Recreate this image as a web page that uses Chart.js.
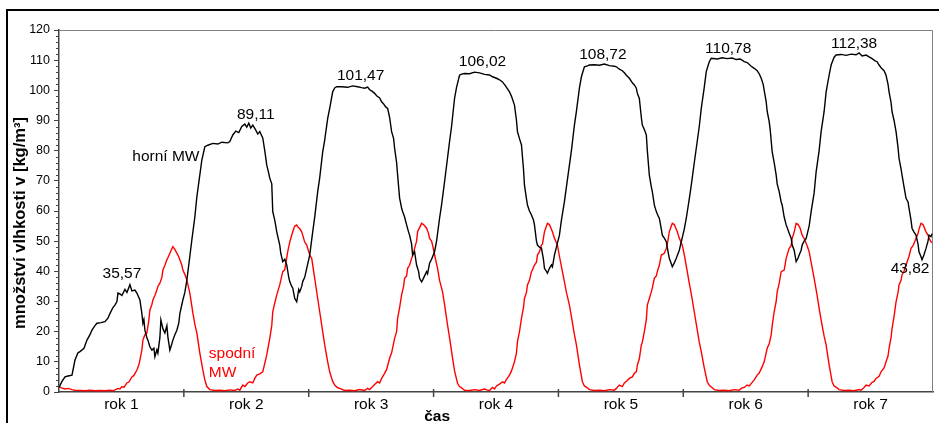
<!DOCTYPE html>
<html lang="cs">

<head>
    <meta charset="UTF-8">
    <title>Množství vlhkosti v MW</title>
    <script src="https://cdn.jsdelivr.net/npm/chart.js"></script>
    <style>
        body {
            margin: 0;
            background: #fff;
            font-family: "Liberation Sans", Arial, sans-serif;
        }

        #wrap {
            position: relative;
            width: 939px;
            height: 423px;
            overflow: hidden;
        }

        /* black frame of the original figure (top and left edge) */
        #ramecek {
            position: absolute;
            left: 6px;
            top: 9px;
            width: 940px;
            height: 420px;
            border-top: 2px solid #000;
            border-left: 2px solid #000;
        }

        #graf {
            position: absolute;
            left: 0;
            top: 0;
        }
    </style>
</head>

<body>
    <div id="wrap">
        <div id="ramecek"></div>
        <canvas id="graf" width="939" height="423"></canvas>
    </div>

    <script>
        // casovy krok (125 kroku = 1 rok), hodnota [kg/m3]
        const horniMW = [
            [0, 1.5], [3, 3.5], [6, 5], [9, 5.3], [13, 5.6], [16, 10.6], [19, 13], [21, 13.4], [25, 14.5], [28, 17.2],
            [31, 19], [33, 20.5], [36, 22], [38, 22.8], [42, 23], [46, 23.3], [49, 24.5], [51, 26], [54, 28], [56, 28.8],
            [58, 30], [59, 32.8], [61, 32.5], [63, 32], [66, 34], [68, 33], [71, 35.57], [73, 33.5], [76, 33.8], [78, 32.8],
            [81, 30.5], [83, 26], [84, 22.8], [85, 24], [86, 20.5], [88, 18], [89, 17.2], [91, 15], [93, 13.9], [95, 14.5],
            [96, 11.7], [98, 14], [99, 12.9], [101, 18], [102, 23.9], [104, 21], [106, 19.6], [108, 22], [109, 18.3], [111, 13.9],
            [113, 16], [114, 17.2], [116, 19], [118, 20.5], [120, 23], [121, 26], [123, 29], [124, 30.5], [126, 33], [128, 37.1],
            [131, 45], [133, 50.4], [136, 58], [138, 64.7], [141, 72], [143, 76.9], [146, 81.3], [149, 81.8], [154, 82.4], [159, 82.2],
            [163, 82.8], [169, 82.6], [171, 83], [174, 85.2], [177, 86.5], [180, 86], [183, 88], [186, 88.8], [188, 87.8], [190, 89.11],
            [192, 87.5], [194, 88.5], [197, 86.8], [199, 85.5], [201, 86.3], [204, 84.2], [206, 80], [208, 75.2], [210, 72.5], [211, 70.9],
            [213, 69], [214, 59.8], [216, 57], [218, 53.1], [221, 48.7], [222, 46], [224, 43.2], [226, 44], [228, 42.1], [230, 38],
            [231, 36.6], [233, 35], [234, 34.5], [236, 31], [238, 29.9], [240, 34], [241, 33.2], [243, 35], [244, 36.6], [246, 38],
            [248, 41], [251, 45.4], [254, 53.1], [256, 58], [259, 66.4], [261, 71], [264, 79.6], [266, 83.5], [269, 90.7], [271, 94],
            [274, 99.5], [276, 100.8], [278, 101.2], [283, 101.2], [289, 101], [294, 101.47], [299, 101.2], [303, 100.9], [306, 100.7], [309, 101.1],
            [311, 100.2], [313, 99.8], [316, 99], [318, 98.2], [321, 97.5], [323, 96.2], [325, 95.5], [327, 94.5], [329, 94], [331, 91],
            [333, 86.3], [335, 84], [336, 80.8], [338, 76], [339, 71.9], [341, 64.3], [343, 61], [344, 59.8], [346, 58], [348, 55.4],
            [350, 53], [351, 52], [353, 49], [354, 45.4], [356, 46.5], [358, 42.1], [360, 40], [361, 37.7], [363, 36.5], [364, 37.1],
            [366, 38.5], [368, 39.9], [369, 39.2], [371, 42.7], [373, 44], [376, 46.5], [378, 50], [381, 57.6], [383, 62], [386, 69.7],
            [388, 75], [391, 83], [393, 88], [396, 97.3], [398, 101], [401, 105], [403, 105.4], [406, 105.6], [411, 105.5], [416, 106.02],
            [421, 105.8], [426, 105.3], [431, 105.1], [434, 104.5], [438, 104], [441, 103.5], [444, 102.8], [447, 101.5], [449, 100.5], [451, 99.5],
            [453, 98], [456, 95.1], [458, 90], [459, 86.3], [461, 84], [463, 81.9], [465, 74], [466, 68.6], [468, 64], [469, 62],
            [471, 60], [473, 58.7], [475, 57], [476, 55.4], [478, 50], [479, 48.7], [481, 48], [483, 47.7], [485, 44], [486, 41],
            [488, 40], [489, 39.4], [491, 41], [493, 42.1], [494, 41.5], [496, 45.4], [498, 48], [501, 52], [503, 57], [506, 63.1],
            [508, 68], [511, 75.2], [513, 80], [516, 88.5], [518, 93], [521, 100.7], [523, 104.5], [526, 107.8], [529, 108.1], [531, 108.4],
            [536, 108.5], [541, 108.3], [546, 108.72], [551, 108.2], [556, 108], [558, 107.8], [561, 107], [564, 106.5], [566, 105.8], [568, 105],
            [571, 104], [574, 102.5], [576, 101.8], [578, 100.7], [579, 99], [581, 97.3], [583, 91], [584, 88.5], [586, 87], [588, 85.2],
            [589, 80], [591, 71.9], [593, 68], [594, 66.4], [596, 62], [598, 59.8], [600, 58.2], [601, 57.6], [603, 54], [604, 52],
            [606, 51], [608, 49.8], [610, 46], [611, 44.3], [613, 42.5], [614, 41.5], [616, 42.8], [618, 44.3], [621, 47], [623, 49.8],
            [626, 54], [628, 57.6], [631, 64], [633, 68.6], [636, 76], [638, 80.8], [641, 88], [643, 94], [646, 101], [648, 106.2],
            [651, 109.5], [653, 110.6], [659, 110.4], [664, 110.78], [669, 110.5], [674, 110.7], [678, 110.2], [682, 110.4], [686, 109.5], [689, 109.2],
            [693, 108], [696, 107.3], [699, 106.5], [701, 105.5], [703, 104], [705, 102], [706, 100], [708, 96.2], [709, 93], [711, 89.6],
            [712, 87], [714, 79.6], [716, 76], [718, 71.9], [719, 69], [721, 66.4], [723, 63], [724, 62], [726, 58], [728, 55.4],
            [729, 54.5], [731, 52.6], [733, 51], [734, 48.7], [736, 47], [738, 43.2], [740, 44.5], [741, 45.4], [743, 47], [744, 48.7],
            [746, 50], [748, 50.9], [751, 55], [753, 59.8], [756, 66], [758, 73], [761, 80], [763, 86.3], [766, 93], [768, 99.5],
            [771, 105], [773, 108.4], [776, 111], [778, 111.7], [783, 111.9], [788, 111.6], [793, 112], [798, 111.8], [801, 112.38], [804, 111.4],
            [808, 111.7], [811, 111.1], [814, 110.5], [817, 109.8], [819, 109.5], [821, 108.4], [823, 107.5], [826, 106.5], [828, 105], [830, 102],
            [831, 99.5], [833, 96], [834, 92.9], [836, 90], [838, 86.3], [840, 81], [841, 77.4], [843, 74], [844, 71.9], [846, 68],
            [848, 64.2], [850, 63], [851, 60.9], [853, 57], [854, 54.3], [856, 53], [858, 52], [860, 49], [861, 46.5], [863, 44.8],
            [864, 43.82], [866, 45.5], [868, 47.6], [870, 50], [871, 52], [873, 51.5], [874, 52.5]
        ];

        const spodniMW = [
            [0, 1.8], [3, 1.3], [6, 1], [9, 1.2], [13, 0.8], [16, 0.6], [21, 0.5], [26, 0.4], [31, 0.6], [36, 0.4],
            [41, 0.5], [46, 0.4], [51, 0.6], [54, 0.4], [56, 0.7], [59, 1.2], [61, 1], [63, 1.8], [65, 1.5], [68, 3],
            [70, 3.3], [73, 5], [75, 5.5], [78, 7.3], [80, 9], [81, 10.6], [83, 14], [84, 17.2], [86, 19], [88, 19.6],
            [90, 24], [91, 27.2], [93, 29], [94, 30.5], [96, 32], [98, 33.8], [99, 35], [101, 36.1], [103, 38], [104, 40.4],
            [106, 42], [108, 43.8], [109, 44.5], [111, 46], [113, 47.5], [114, 48.2], [116, 47.3], [118, 46], [119, 45.5], [121, 43.8],
            [123, 42], [124, 40.4], [126, 39], [128, 37.1], [131, 32.8], [134, 26.2], [136, 22.5], [138, 19.6], [141, 12.9], [144, 7.3],
            [146, 4], [148, 1.8], [151, 0.8], [156, 0.5], [161, 0.6], [166, 0.4], [171, 0.7], [176, 0.5], [179, 1], [181, 0.6],
            [184, 2.3], [186, 1.8], [189, 3], [191, 3.4], [194, 3], [196, 4.5], [198, 5.6], [201, 6], [204, 6.7], [206, 9.5],
            [208, 12.3], [211, 17.8], [213, 22], [214, 26.6], [216, 29.5], [218, 32.2], [221, 35.5], [224, 39.9], [226, 40.5], [229, 46.5],
            [231, 49.7], [234, 53.1], [236, 55], [238, 55.4], [239, 54.8], [241, 54.1], [243, 53.1], [246, 49.7], [248, 48.7], [251, 45.4],
            [253, 44.3], [256, 37.7], [259, 31], [261, 26.6], [264, 20], [266, 15.6], [269, 10], [271, 6.7], [274, 3.5], [276, 2.3],
            [279, 1.4], [281, 1.2], [286, 0.5], [291, 0.6], [296, 0.4], [301, 0.8], [306, 0.5], [309, 1.2], [311, 0.8], [313, 1.5],
            [316, 2.5], [319, 3.4], [321, 3], [323, 4.5], [326, 6.2], [328, 7.5], [331, 11.2], [333, 13], [336, 17.8], [338, 20],
            [339, 24.4], [341, 28], [343, 32.2], [345, 35], [346, 37.7], [348, 38.5], [349, 41], [351, 42], [353, 44.3], [355, 46],
            [356, 47.6], [358, 50], [359, 53.1], [361, 54.5], [363, 55.9], [365, 55.5], [368, 54.3], [370, 52.5], [371, 50.9], [373, 50],
            [374, 48.7], [376, 45.5], [379, 41], [381, 37], [384, 33.2], [386, 29], [389, 22.2], [391, 18], [394, 11.2], [396, 7],
            [399, 2.9], [401, 1.8], [403, 1.4], [406, 0.6], [411, 0.5], [416, 0.8], [421, 0.5], [426, 1], [429, 0.6], [431, 0.5],
            [434, 1.5], [436, 1], [438, 2], [441, 2.6], [444, 3.4], [446, 3], [448, 4.2], [451, 5.6], [453, 7], [456, 10],
            [458, 13], [459, 16.7], [461, 20], [463, 24.4], [465, 28], [466, 31], [468, 33], [469, 35.5], [471, 37], [473, 39.9],
            [474, 40.5], [476, 42.1], [478, 43], [479, 45.4], [481, 46.5], [483, 48.7], [484, 49], [486, 53.1], [488, 55], [489, 55.9],
            [491, 55.5], [494, 53.1], [496, 51], [499, 48.7], [501, 45], [504, 39.9], [506, 36.5], [508, 33], [511, 28.8], [514, 23],
            [516, 19], [518, 15.6], [521, 9], [524, 3.4], [526, 2], [529, 1.4], [531, 0.8], [536, 0.5], [541, 0.6], [546, 0.4],
            [551, 0.8], [556, 0.6], [558, 1.2], [561, 2.3], [564, 1.8], [566, 3], [569, 3.8], [571, 4.5], [574, 5], [576, 6.2],
            [578, 6.7], [579, 8.9], [581, 11], [583, 15.6], [584, 16.5], [586, 20], [588, 24], [589, 28.8], [591, 31], [593, 33.2],
            [594, 34.5], [596, 37.7], [598, 38.5], [599, 39.9], [601, 42], [603, 45.4], [606, 46], [608, 47.6], [609, 49], [611, 53.1],
            [613, 55], [614, 55.9], [616, 55.5], [619, 53.1], [621, 51], [624, 48.7], [626, 45.5], [629, 39.9], [631, 36], [633, 32.5],
            [636, 26.6], [639, 20.5], [641, 16.5], [643, 13.4], [646, 8], [649, 3.4], [651, 2.2], [654, 1.4], [656, 0.8], [661, 0.5],
            [666, 0.6], [671, 0.4], [676, 0.8], [681, 0.6], [683, 1.2], [686, 1.5], [689, 2.3], [691, 2], [694, 3.2], [696, 4],
            [699, 5.6], [701, 6.3], [704, 8.4], [706, 10], [709, 14.5], [711, 16], [713, 18.9], [714, 22], [716, 26.6], [718, 30],
            [719, 33.2], [721, 36], [723, 39.9], [726, 40.4], [728, 44.3], [731, 47.6], [733, 48.5], [734, 50.9], [736, 53], [738, 55.9],
            [740, 55.5], [742, 54.3], [744, 52], [746, 50.9], [749, 48.5], [751, 46.5], [753, 43], [756, 37.7], [759, 32], [761, 27.7],
            [764, 22], [766, 18.5], [768, 15.6], [771, 9], [774, 3.4], [776, 2], [779, 1.4], [781, 0.8], [786, 0.5], [791, 0.6],
            [796, 0.4], [801, 0.8], [803, 0.6], [806, 1.5], [808, 2.3], [811, 2], [814, 3.2], [816, 3.5], [818, 4.5], [821, 5.2],
            [823, 6.7], [826, 8], [828, 10], [830, 12], [831, 14.5], [833, 18], [834, 21.1], [836, 25], [838, 29.9], [840, 33],
            [841, 35.5], [843, 37], [844, 38.8], [846, 40], [848, 42.1], [851, 45], [853, 47.6], [855, 48.5], [858, 50.9], [860, 52.5],
            [861, 54], [863, 55.9], [865, 55.5], [868, 53.1], [870, 52], [871, 51], [873, 49.8], [874, 49.5]
        ];

        const roky = ['rok 1', 'rok 2', 'rok 3', 'rok 4', 'rok 5', 'rok 6', 'rok 7'];
        const krokuZaRok = 125;

        // popisky maxim/minim: text, casovy krok, hodnota, barva
        const popisky = [
            ['35,57', 63, 39.1, '#000'],
            ['89,11', 197, 91.8, '#000'],
            ['101,47', 302, 104.7, '#000'],
            ['106,02', 424, 109.4, '#000'],
            ['108,72', 544.5, 111.7, '#000'],
            ['110,78', 670, 113.7, '#000'],
            ['112,38', 796, 115.3, '#000'],
            ['43,82', 852, 40.8, '#000']
        ];

        // extra drawing: plot frame, minor ticks, year ticks, labels
        const doplnky = {
            id: 'doplnky',
            beforeDatasetsDraw(chart) {
                const { ctx, chartArea: a } = chart;
                ctx.save();
                ctx.strokeStyle = '#808080';
                ctx.lineWidth = 1;
                ctx.beginPath();
                ctx.moveTo(a.left, a.top + 0.5);
                ctx.lineTo(a.right - 0.5, a.top + 0.5);
                ctx.lineTo(a.right - 0.5, a.bottom);
                ctx.stroke();
                ctx.restore();
            },
            afterDraw(chart) {
                const { ctx, chartArea: a, scales } = chart;
                const x = scales.x, y = scales.y;
                ctx.save();
                ctx.strokeStyle = '#444';
                ctx.lineWidth = 1;
                // minor ticks on y
                for (let v = 0; v <= 120; v += 2) {
                    if (v % 10 === 0) continue;
                    const py = Math.round(y.getPixelForValue(v)) + 0.5;
                    ctx.beginPath();
                    ctx.moveTo(a.left - 3, py);
                    ctx.lineTo(a.left, py);
                    ctx.stroke();
                }
                // year boundary ticks crossing the x axis
                ctx.lineWidth = 1.5;
                for (let i = 1; i < roky.length; i++) {
                    const px = x.getPixelForValue(i * krokuZaRok);
                    ctx.beginPath();
                    ctx.moveTo(px, a.bottom - 3);
                    ctx.lineTo(px, a.bottom + 5);
                    ctx.stroke();
                }

                ctx.textAlign = 'center';
                ctx.textBaseline = 'middle';
                ctx.font = '15.5px "Liberation Sans", Arial, sans-serif';
                popisky.forEach(([t, k, v, c]) => {
                    ctx.fillStyle = c;
                    ctx.fillText(t, x.getPixelForValue(k), y.getPixelForValue(v));
                });
                ctx.fillStyle = '#000';
                ctx.fillText('horní MW', x.getPixelForValue(107), y.getPixelForValue(77.9));

                ctx.textAlign = 'left';
                ctx.fillStyle = '#f00';
                ctx.fillText('spodní', x.getPixelForValue(150), y.getPixelForValue(12.6));
                ctx.fillText('MW', x.getPixelForValue(150), y.getPixelForValue(6.3));

                // axis titles
                ctx.fillStyle = '#000';
                ctx.textAlign = 'center';
                ctx.font = 'bold 15.5px "Liberation Sans", Arial, sans-serif';
                ctx.fillText('čas', x.getPixelForValue(378.5), 417);

                ctx.translate(20, (a.top + a.bottom) / 2 + 12);
                ctx.rotate(-Math.PI / 2);
                ctx.font = 'bold 16.5px "Liberation Sans", Arial, sans-serif';
                ctx.fillText('množství vlhkosti v [kg/m³]', 0, 0);
                ctx.restore();
            }
        };

        const toXY = arr => arr.map(([t, v]) => ({ x: t, y: v }));

        new Chart(document.getElementById('graf'), {
            type: 'line',
            data: {
                datasets: [{
                    label: 'horní MW',
                    data: toXY(horniMW),
                    borderColor: '#000',
                    borderWidth: 1.4,
                    pointRadius: 0,
                    tension: 0
                }, {
                    label: 'spodní MW',
                    data: toXY(spodniMW),
                    borderColor: '#f00',
                    borderWidth: 1.4,
                    pointRadius: 0,
                    tension: 0
                }]
            },
            options: {
                responsive: false,
                animation: false,
                devicePixelRatio: 1,
                layout: { padding: { top: 30, right: 6, left: 0, bottom: 0 } },
                plugins: {
                    legend: { display: false },
                    tooltip: { enabled: false }
                },
                scales: {
                    x: {
                        type: 'linear',
                        min: 0,
                        max: krokuZaRok * roky.length,
                        afterFit: s => { s.height = 31; },
                        grid: { display: false },
                        border: { display: true, color: '#444', width: 1.5 },
                        ticks: {
                            stepSize: krokuZaRok / 2,
                            autoSkip: false,
                            maxRotation: 0,
                            padding: -5,
                            color: '#000',
                            font: { family: '"Liberation Sans", Arial, sans-serif', size: 15.5 },
                            callback: v => {
                                const i = (v - krokuZaRok / 2) / krokuZaRok;
                                return Number.isInteger(i) ? roky[i] : '';
                            }
                        }
                    },
                    y: {
                        min: 0,
                        max: 120,
                        afterFit: s => { s.width = 59; },
                        grid: { drawOnChartArea: false, drawTicks: true, tickLength: 5, color: '#444' },
                        border: { display: true, color: '#444', width: 1.5 },
                        ticks: {
                            stepSize: 10,
                            padding: 4,
                            color: '#000',
                            font: { family: '"Liberation Sans", Arial, sans-serif', size: 12.5 }
                        }
                    }
                }
            },
            plugins: [doplnky]
        });
    </script>
</body>

</html>
